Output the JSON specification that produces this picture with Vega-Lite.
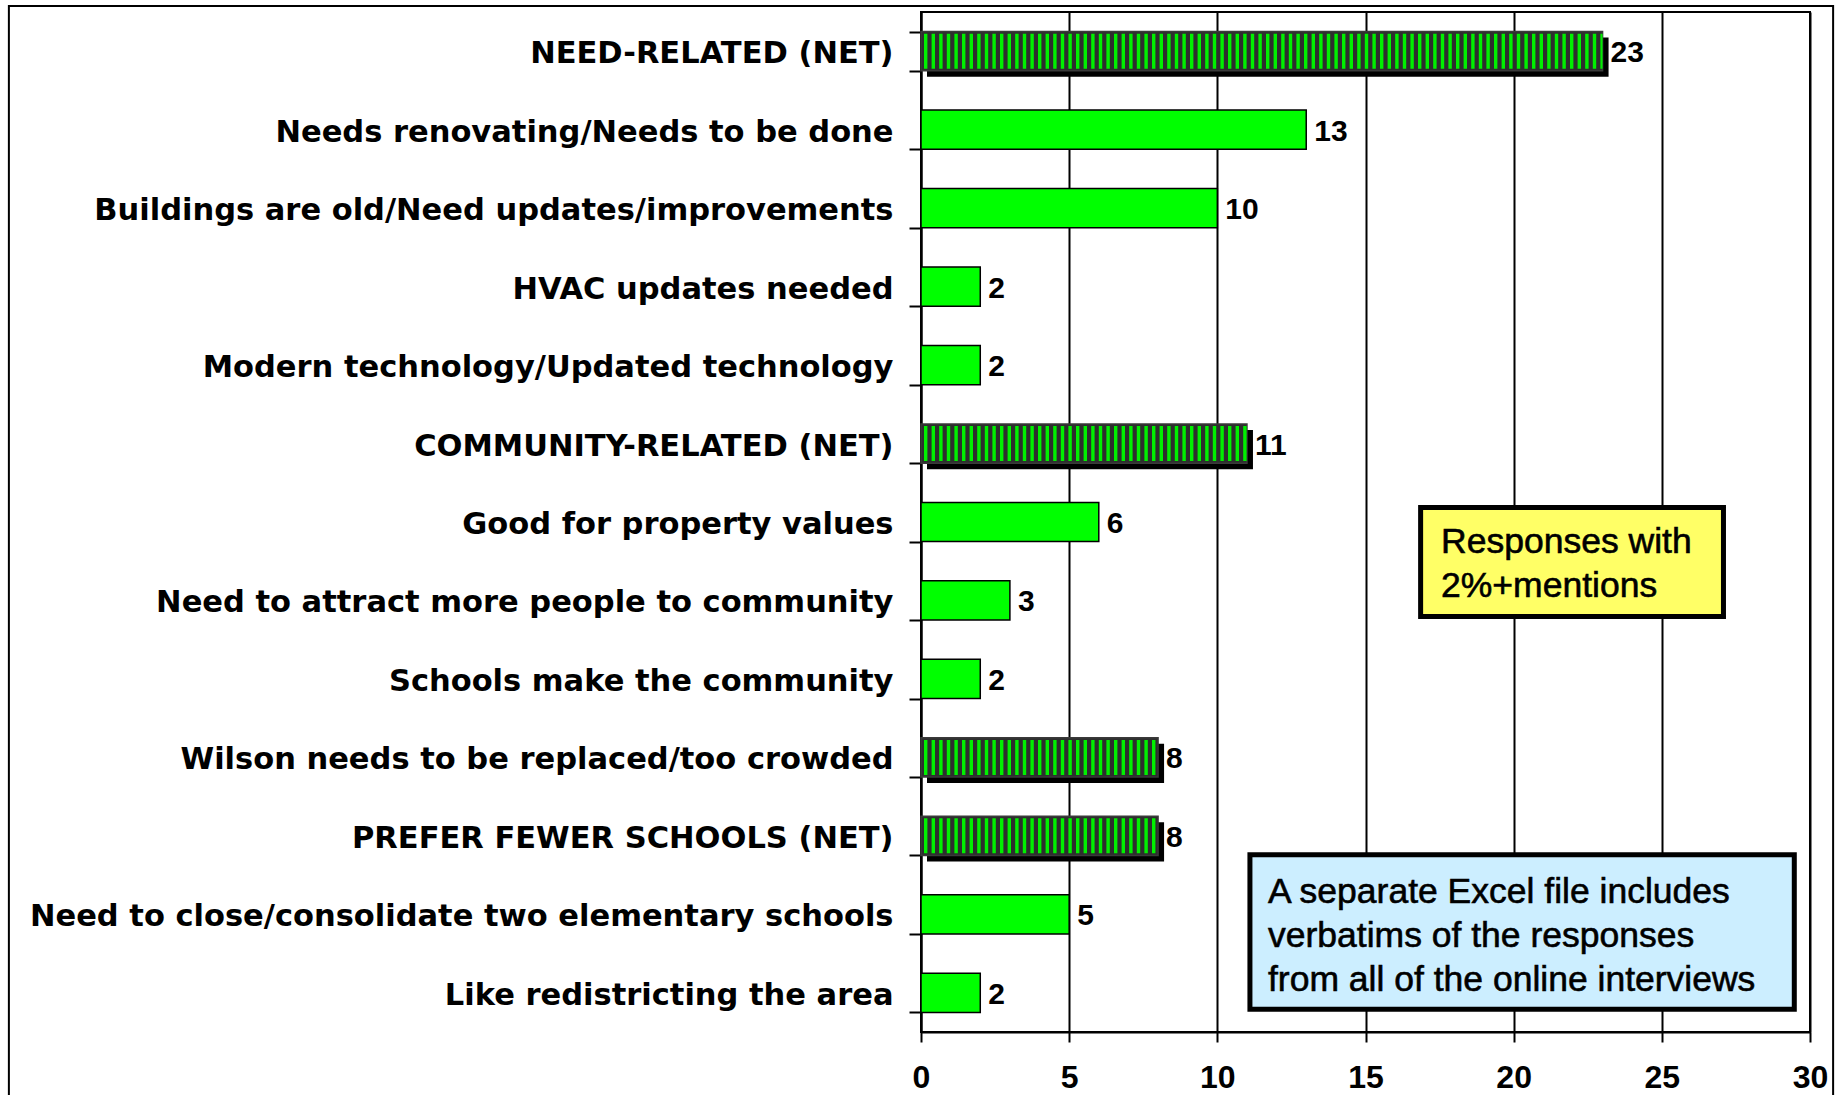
{
  "$schema": "https://vega.github.io/schema/vega-lite/v6.json",
  "autosize": {"type": "none"},
  "width": 889,
  "height": 1020,
  "padding": {"left": 921, "top": 12, "right": 35, "bottom": 63},
  "background": "white",
  "config": {
    "view": {"stroke": "black", "strokeWidth": 2}
  },
  "resolve": {"scale": {"y": "independent"}},
  "layer": [
    {
      "data": {"values": [
        {"label": "NEED-RELATED (NET)", "value": 23, "kind": "net"},
        {"label": "Needs renovating/Needs to be done", "value": 13, "kind": "item"},
        {"label": "Buildings are old/Need updates/improvements", "value": 10, "kind": "item"},
        {"label": "HVAC updates needed", "value": 2, "kind": "item"},
        {"label": "Modern technology/Updated technology", "value": 2, "kind": "item"},
        {"label": "COMMUNITY-RELATED (NET)", "value": 11, "kind": "net"},
        {"label": "Good for property values", "value": 6, "kind": "item"},
        {"label": "Need to attract more people to community", "value": 3, "kind": "item"},
        {"label": "Schools make the community", "value": 2, "kind": "item"},
        {"label": "Wilson needs to be replaced/too crowded", "value": 8, "kind": "net"},
        {"label": "PREFER FEWER SCHOOLS (NET)", "value": 8, "kind": "net"},
        {"label": "Need to close/consolidate two elementary schools", "value": 5, "kind": "item"},
        {"label": "Like redistricting the area", "value": 2, "kind": "item"}
      ]},
      "encoding": {
        "y": {
          "field": "label", "type": "nominal",
          "scale": {
            "domain": [
              "NEED-RELATED (NET)",
              "Needs renovating/Needs to be done",
              "Buildings are old/Need updates/improvements",
              "HVAC updates needed",
              "Modern technology/Updated technology",
              "COMMUNITY-RELATED (NET)",
              "Good for property values",
              "Need to attract more people to community",
              "Schools make the community",
              "Wilson needs to be replaced/too crowded",
              "PREFER FEWER SCHOOLS (NET)",
              "Need to close/consolidate two elementary schools",
              "Like redistricting the area"
            ],
            "paddingInner": 0.5, "paddingOuter": 0.25
          },
          "axis": {
            "title": null,
            "labelFont": "DejaVu Sans", "labelFontWeight": "bold", "labelFontSize": 30.5,
            "labelColor": "black", "labelLimit": 1200, "labelPadding": 16, "labelOffset": 2.5,
            "tickBand": "extent", "tickSize": 12, "tickColor": "black", "tickWidth": 2,
            "domainColor": "black", "domainWidth": 2
          }
        },
        "x": {
          "field": "value", "type": "quantitative",
          "scale": {"domain": [0, 30], "nice": false},
          "axis": {
            "title": null, "values": [0, 5, 10, 15, 20, 25, 30],
            "grid": true, "gridColor": "black", "gridWidth": 2, "gridOpacity": 1,
            "tickSize": 10, "tickColor": "black", "tickWidth": 2,
            "domainColor": "black", "domainWidth": 2,
            "labelFont": "Liberation Sans", "labelFontWeight": "bold", "labelFontSize": 32,
            "labelColor": "black", "labelPadding": 20, "labelFlush": false, "labelOverlap": false
          }
        }
      },
      "layer": [
        {
          "transform": [{"filter": "datum.kind == 'net'"}],
          "mark": {"type": "bar", "color": "black", "xOffset": 6, "x2Offset": 6, "yOffset": 6, "y2Offset": 6}
        },
        {
          "transform": [{"filter": "datum.kind == 'net'"}],
          "mark": {"type": "bar", "fill": "#2e2e2e", "stroke": "#3a3a3a", "strokeWidth": 1.5}
        },
        {
          "transform": [{"filter": "datum.kind == 'net'"}],
          "mark": {"type": "rule", "color": "#00f000", "strokeWidth": 35, "strokeDash": [3.4, 4.2], "strokeCap": "butt", "strokeDashOffset": -3},
          "encoding": {"x": {"datum": 0}, "x2": {"field": "value"}}
        },
        {
          "transform": [{"filter": "datum.kind == 'item'"}],
          "mark": {"type": "bar", "fill": "#00ff00", "stroke": "black", "strokeWidth": 1.5}
        },
        {
          "mark": {"type": "text", "align": "left", "baseline": "middle", "dx": 8, "dy": 2, "font": "Liberation Sans", "fontWeight": "bold", "fontSize": 30, "color": "black"},
          "encoding": {"text": {"field": "value", "type": "quantitative"}}
        }
      ]
    },
    {
      "data": {"values": [
        {"name": "frame", "x1": -30.78, "x2": 30.78, "y1": -0.076, "y2": 13.9}
      ]},
      "mark": {"type": "rect", "fillOpacity": 0, "stroke": "black", "strokeWidth": 2, "clip": false},
      "encoding": {
        "x": {"field": "x1", "type": "quantitative"},
        "x2": {"field": "x2"},
        "y": {"field": "y1", "type": "quantitative", "scale": {"domain": [0, 13], "reverse": true, "nice": false, "zero": false}, "axis": null},
        "y2": {"field": "y2"}
      }
    },
    {
      "data": {"values": [
        {"note": "Responses with\n2%+mentions", "x1": 16.86, "x2": 27.08, "y1": 6.315, "y2": 7.705, "tx": 17.55, "ty": 6.76},
        {"note": "A separate Excel file includes\nverbatims of the responses\nfrom all of the online interviews", "x1": 11.1, "x2": 29.47, "y1": 10.74, "y2": 12.71, "tx": 11.71, "ty": 11.21}
      ]},
      "layer": [
        {
          "transform": [{"filter": "datum.x1 > 15"}],
          "mark": {"type": "rect", "fill": "#ffff66", "stroke": "black", "strokeWidth": 5},
          "encoding": {
            "x": {"field": "x1", "type": "quantitative"},
            "x2": {"field": "x2"},
            "y": {"field": "y1", "type": "quantitative", "scale": {"domain": [0, 13], "reverse": true, "nice": false, "zero": false}, "axis": null},
            "y2": {"field": "y2"}
          }
        },
        {
          "transform": [{"filter": "datum.x1 < 15"}],
          "mark": {"type": "rect", "fill": "#cceeff", "stroke": "black", "strokeWidth": 5},
          "encoding": {
            "x": {"field": "x1", "type": "quantitative"},
            "x2": {"field": "x2"},
            "y": {"field": "y1", "type": "quantitative", "scale": {"domain": [0, 13], "reverse": true, "nice": false, "zero": false}, "axis": null},
            "y2": {"field": "y2"}
          }
        },
        {
          "mark": {"type": "text", "align": "left", "baseline": "middle", "lineBreak": "\n", "lineHeight": 44, "font": "Liberation Sans", "fontSize": 35.5, "color": "black", "stroke": "black", "strokeWidth": 0.6},
          "encoding": {
            "x": {"field": "tx", "type": "quantitative"},
            "y": {"field": "ty", "type": "quantitative", "scale": {"domain": [0, 13], "reverse": true, "nice": false, "zero": false}, "axis": null},
            "text": {"field": "note", "type": "nominal"}
          }
        }
      ]
    }
  ]
}
